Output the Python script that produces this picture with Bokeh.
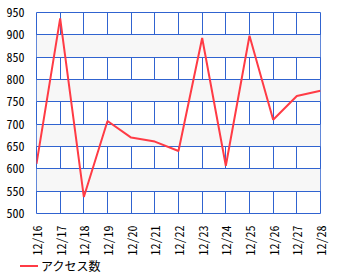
import math
from bokeh.plotting import figure
from bokeh.layouts import column
from bokeh.models import FixedTicker, Range1d, Div
from bokeh.embed import file_html
from bokeh.resources import INLINE

dates = ["12/16", "12/17", "12/18", "12/19", "12/20", "12/21", "12/22",
         "12/23", "12/24", "12/25", "12/26", "12/27", "12/28"]
access = [611, 937, 537, 707, 670, 661, 640, 893, 607, 898, 710, 763, 775]
y_ticks = [500, 550, 600, 650, 700, 750, 800, 850, 900, 950]
series_name = "アクセス数"

xs = list(range(len(dates)))
line_color = "#ff3b45"
grid_color = "#3063d0"
tick_font = "'Noto Sans Mono CJK JP', 'Liberation Sans Narrow', sans-serif"

p = figure(width=350, height=258, output_backend="svg", toolbar_location=None,
           x_range=Range1d(0, len(dates) - 1), y_range=Range1d(500, 950),
           min_border_left=36, min_border_right=30, min_border_top=12, min_border_bottom=45)
p.background_fill_color = "white"
p.border_fill_color = "white"
p.outline_line_color = grid_color
p.outline_line_width = 1

p.xgrid.grid_line_color = grid_color
p.ygrid.grid_line_color = grid_color
p.xgrid.grid_line_alpha = 1
p.ygrid.grid_line_alpha = 1
p.ygrid.band_fill_color = "#f7f7f7"
p.ygrid.band_fill_alpha = 1

p.xaxis.ticker = FixedTicker(ticks=xs)
p.xaxis.major_label_overrides = {i: d for i, d in enumerate(dates)}
p.xaxis.major_label_orientation = math.pi / 2
p.yaxis.ticker = FixedTicker(ticks=y_ticks)

for ax in (p.xaxis, p.yaxis):
    ax.axis_line_color = None
    ax.major_tick_line_color = None
    ax.minor_tick_line_color = None
    ax.major_label_text_font = tick_font
    ax.major_label_text_font_size = "12px"
    ax.major_label_text_color = "black"
    ax.major_label_standoff = 6

p.line(xs, access, line_color=line_color, line_width=2)

legend_html = (
    '<div style="position:relative;width:350px;height:22px;'
    'font-family:\'Noto Sans CJK JP\',sans-serif;font-size:12px;color:black;">'
    '<span style="position:absolute;left:20px;top:7px;width:18px;height:2px;'
    'background:' + line_color + ';"></span>'
    '<span style="position:absolute;left:41px;top:1px;line-height:14px;'
    'white-space:nowrap;">' + series_name + '</span></div>'
)
legend_div = Div(text=legend_html, width=350, height=22, margin=0)

layout = column(p, legend_div, spacing=0)
open("out.html", "w").write(file_html(layout, INLINE))
